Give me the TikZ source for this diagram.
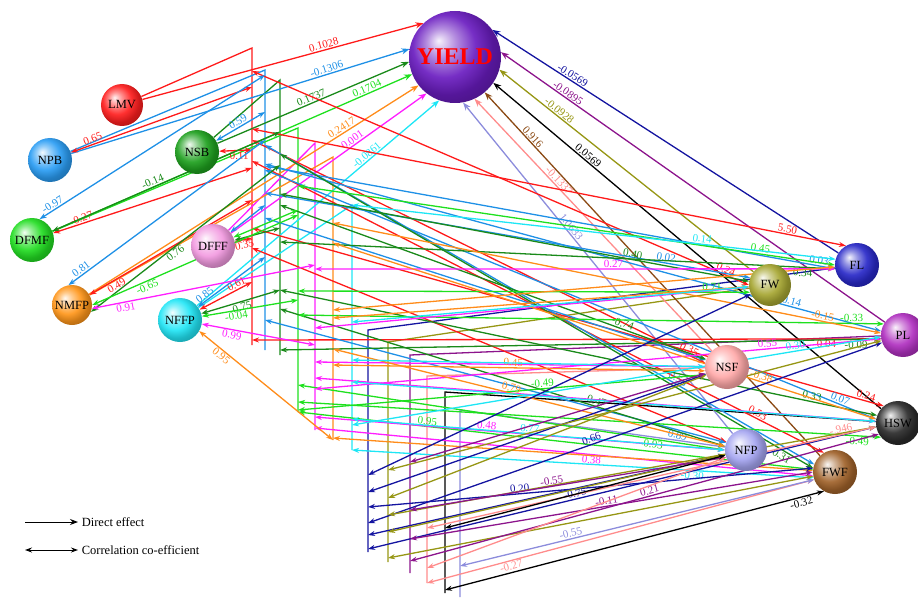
\documentclass[tikz,border=0pt]{standalone}
\usepackage{fontspec}
\setmainfont{Liberation Serif}
\usetikzlibrary{arrows.meta, backgrounds}
% softer sphere shading than the built-in ball
\makeatletter
\pgfdeclareradialshading[tikz@ball]{softball}{\pgfqpoint{-9bp}{9bp}}{%
  color(0bp)=(tikz@ball!6!white); color(8bp)=(tikz@ball!50!white);
  color(17bp)=(tikz@ball!92!white); color(25bp)=(tikz@ball!80!black);
  color(50bp)=(tikz@ball!40!black)}
\makeatother
% ball colours
\definecolor{yieldcol}{HTML}{6A1CC0}
\definecolor{lmvcol}{HTML}{FF1E1E}
\definecolor{npbcol}{HTML}{2A9DF4}
\definecolor{nsbcol}{HTML}{1EA01E}
\definecolor{dfmfcol}{HTML}{22DD22}
\definecolor{dfffcol}{HTML}{F29AE0}
\definecolor{nmfpcol}{HTML}{FF961A}
\definecolor{nffpcol}{HTML}{22E6F6}
\definecolor{flcol}{HTML}{2828C8}
\definecolor{fwcol}{HTML}{A6A632}
\definecolor{plcol}{HTML}{B030C0}
\definecolor{nsfcol}{HTML}{FFA8A8}
\definecolor{hswcol}{HTML}{2A2A2A}
\definecolor{nfpcol}{HTML}{A4A4F0}
\definecolor{fwfcol}{HTML}{A0622A}
% line colours
\definecolor{cred}{HTML}{FF1A1A}
\definecolor{cblue}{HTML}{1E90E6}
\definecolor{cdgreen}{HTML}{1A8A1A}
\definecolor{clime}{HTML}{1EE01E}
\definecolor{cmag}{HTML}{FF1EFF}
\definecolor{corange}{HTML}{FF8C1A}
\definecolor{ccyan}{HTML}{1EE6F5}
\definecolor{cnavy}{HTML}{1414A0}
\definecolor{colive}{HTML}{969614}
\definecolor{cpurple}{HTML}{8C148C}
\definecolor{csalmon}{HTML}{FF8C8C}
\definecolor{cblack}{HTML}{000000}
\definecolor{clav}{HTML}{8C8CDC}
\definecolor{cbrown}{HTML}{8B4A14}

\begin{document}
\begin{tikzpicture}[
    x=1pt, y=-1pt,
    ball/.style={circle, minimum size=44pt, inner sep=0pt, font=\fontsize{12.5}{13}\selectfont},
    sphere/.style={ball color=#1, shading=softball},
    direct/.style={-{Stealth[length=8pt, width=6pt]}, line width=1.3pt},
    corr/.style={{Stealth[length=7pt, width=5pt]}-{Stealth[length=7pt, width=5pt]}, line width=1.3pt},
    bus/.style={line width=1.3pt},
    lbl/.style={sloped, above, inner sep=1pt, font=\fontsize{11}{11}\selectfont},
    legtxt/.style={right, font=\fontsize{12.5}{13}\selectfont}
]
    \useasboundingbox (0,0) rectangle (918,599);

    % =====================================================================
    % VARIABLES
    % =====================================================================
    \node (YIELD) [ball, sphere=yieldcol, minimum size=92pt, text=red, font=\fontsize{24}{26}\selectfont\bfseries] at (455,57) {YIELD};

    \node (LMV)  [ball, sphere=lmvcol, minimum size=42pt] at (122,105) {LMV};
    \node (NPB)  [ball, sphere=npbcol]  at (50,160)  {NPB};
    \node (NSB)  [ball, sphere=nsbcol]  at (197,152) {NSB};
    \node (DFMF) [ball, sphere=dfmfcol] at (32,240)  {DFMF};
    \node (DFFF) [ball, sphere=dfffcol] at (213,246) {DFFF};
    \node (NMFP) [ball, sphere=nmfpcol, minimum size=40pt] at (72,305) {NMFP};
    \node (NFFP) [ball, sphere=nffpcol] at (180,320) {NFFP};

    \node (FL)  [ball, sphere=flcol]  at (857,265) {FL};
    \node (FW)  [ball, sphere=fwcol, minimum size=42pt] at (770,285) {FW};
    \node (PL)  [ball, sphere=plcol]  at (903,335) {PL};
    \node (NSF) [ball, sphere=nsfcol] at (727,367) {NSF};
    \node (HSW) [ball, sphere=hswcol] at (898,423) {HSW};
    \node (NFP) [ball, sphere=nfpcol, minimum size=42pt] at (746,450) {NFP};
    \node (FWF) [ball, sphere=fwfcol] at (835,472) {FWF};

    % bus lines
    \coordinate (LMVtop)  at (252,48);  \coordinate (LMVbot)  at (252,345);
    \coordinate (NPBtop)  at (265,70);  \coordinate (NPBbot)  at (265,350);
    \coordinate (NSBtop)  at (280,80);  \coordinate (NSBbot)  at (280,355);
    \coordinate (DFMFtop) at (298,128); \coordinate (DFMFbot) at (298,412);
    \coordinate (DFFFtop) at (315,143); \coordinate (DFFFbot) at (315,430);
    \coordinate (NMFPtop) at (333,157); \coordinate (NMFPbot) at (333,440);
    \coordinate (NFFPtop) at (352,205); \coordinate (NFFPbot) at (352,450);
    \coordinate (FLtop)   at (368,330); \coordinate (FLbot)   at (368,552);
    \coordinate (FWtop)   at (388,342); \coordinate (FWbot)   at (388,562);
    \coordinate (PLtop)   at (410,355); \coordinate (PLbot)   at (410,573);
    \coordinate (NSFtop)  at (427,376); \coordinate (NSFbot)  at (427,583);
    \coordinate (HSWtop)  at (445,392); \coordinate (HSWbot)  at (445,593);
    \coordinate (NFPtop)  at (460,410); \coordinate (NFPbot)  at (460,597);

    \begin{scope}[on background layer]
    \draw [bus, cred]    (LMV)  -- (LMVtop)  -- (LMVbot);
    \draw [bus, cblue]   (NPB)  -- (NPBtop)  -- (NPBbot);
    \draw [bus, cdgreen] (NSB)  -- (NSBtop)  -- (NSBbot);
    \draw [bus, clime]   (DFMF) -- (DFMFtop) -- (DFMFbot);
    \draw [bus, cmag]    (DFFF) -- (DFFFtop) -- (DFFFbot);
    \draw [bus, corange] (NMFP) -- (NMFPtop) -- (NMFPbot);
    \draw [bus, ccyan]   (NFFP) -- (NFFPtop) -- (NFFPbot);
    \draw [bus, cnavy]   (FL)   -- (FLtop)   -- (FLbot);
    \draw [bus, colive]  (FW)   -- (FWtop)   -- (FWbot);
    \draw [bus, cpurple] (PL)   -- (PLtop)   -- (PLbot);
    \draw [bus, csalmon] (NSF)  -- (NSFtop)  -- (NSFbot);
    \draw [bus, cblack]  (HSW)  -- (HSWtop)  -- (HSWbot);
    \draw [bus, clav]    (NFP)  -- (NFPtop)  -- (NFPbot);

    % =====================================================================
    % DIRECT EFFECTS ON YIELD
    % =====================================================================
    \draw [direct, cred]    (LMV)  -- (YIELD.133) node[lbl, pos=.65]  {0.1028};
    \draw [direct, cblue]   (NPB)  -- (YIELD.170) node[lbl, pos=.76]  {-0.1306};
    \draw [direct, cdgreen] (NSB)  -- (YIELD.186) node[lbl, pos=.5]   {0.1737};
    \draw [direct, clime]   (DFMF) -- (YIELD.202) node[lbl, pos=.88]  {0.1704};
    \draw [direct, corange] (NMFP) -- (YIELD.218) node[lbl, pos=.775] {0.2417};
    \draw [direct, cmag]    (DFFF) -- (YIELD.232) node[lbl, pos=.636] {0.001};
    \draw [direct, ccyan]   (NFFP) -- (YIELD.250) node[lbl, pos=.715] {-0.0861};

    \draw [direct, cnavy]   (FL)  -- (YIELD.36)  node[lbl, pos=.776] {-0.0569};
    \draw [direct, cpurple] (PL)  -- (YIELD.6)   node[lbl, pos=.833] {-0.0895};
    \draw [direct, colive]  (FW)  -- (YIELD.-16) node[lbl, pos=.777] {-0.0928};
    \draw [direct, cblack]  (HSW) -- (YIELD.-34) node[lbl, pos=.764] {0.0569};
    \draw [direct, cbrown]  (FWF) -- (YIELD.-50) node[lbl, pos=.868] {0.916};
    \draw [direct, csalmon] (NSF) -- (YIELD.-65) node[lbl, pos=.66]  {-0.1337};
    \draw [direct, clav]    (NFP) -- (YIELD.-80) node[lbl, pos=.614] {1.0633};

    % =====================================================================
    % CORRELATIONS
    % =====================================================================
    % LMV
    \draw [corr, cred] (LMVtop |- 0,87)  -- (NPB)  node[lbl, pos=.87] {0.65};
    \draw [corr, cred] (LMVtop |- 0,150) -- (NSB)  node[lbl, below, pos=.4] {0.11};
    \draw [corr, cred] (LMVtop |- 0,168) -- (DFMF) node[lbl, pos=.85] {-0.27};
    \draw [corr, cred] (LMVtop |- 0,238) -- (DFFF) node[lbl, below, pos=.5] {0.35};
    \draw [corr, cred] (LMVtop |- 0,200) -- (NMFP) node[lbl, below, pos=.85] {0.49};
    \draw [corr, cred] (LMVtop |- 0,282) -- (NFFP) node[lbl, pos=.25] {0.61};
    \draw [corr, cred] (LMVtop |- 0,129) -- (FL.120)  node[lbl, pos=.9]  {5.50};
    \draw [corr, cred] (LMVtop |- 0,71)  -- (FW.180)  node[lbl, pos=.95] {0.24};
    \draw [corr, cred] (LMVtop |- 0,340) -- (PL.190)  node[lbl, below, pos=.913] {0.04};
    \draw [corr, cred] (LMVtop |- 0,140) -- (NSF.170) node[lbl, pos=.96] {0.35};
    \draw [corr, cred] (LMVtop |- 0,228) -- (HSW.130) node[lbl, pos=.97] {0.24};
    \draw [corr, cred] (LMVtop |- 0,248) -- (NFP);
    \draw [corr, cred] (LMVtop |- 0,161) -- (FWF.120) node[lbl, pos=.88] {0.53};

    % NPB
    \draw [corr, cblue] (NPBtop |- 0,112) -- (NSB)  node[lbl, pos=.5]  {0.59};
    \draw [corr, cblue] (NPBtop |- 0,75)  -- (DFMF.70) node[lbl, pos=.93] {-0.97};
    \draw [corr, cblue] (NPBtop |- 0,205) -- (DFFF);
    \draw [corr, cblue] (NPBtop |- 0,140) -- (NMFP.100) node[lbl, pos=.92] {0.81};
    \draw [corr, cblue] (NPBtop |- 0,257) -- (NFFP) node[lbl, pos=.85] {0.85};
    \draw [corr, cblue] (NPBtop |- 0,166) -- (FL.190)  node[lbl, pos=.97]  {0.03};
    \draw [corr, cblue] (NPBtop |- 0,193) -- (FW.160)  node[lbl, pos=.825] {0.02};
    \draw [corr, cblue] (NPBtop |- 0,164) -- (PL.170)  node[lbl, pos=.85]  {-0.14};
    \draw [corr, cblue] (NPBtop |- 0,218) -- (NSF);
    \draw [corr, cblue] (NPBtop |- 0,170) -- (HSW.170) node[lbl, pos=.938] {0.07};
    \draw [corr, cblue] (NPBtop |- 0,320) -- (NFP.160) node[lbl, below, pos=.898] {0.89};
    \draw [corr, cblue] (NPBtop |- 0,145) -- (FWF.160) node[lbl, pos=.747] {0.56};

    % NSB
    \draw [corr, cdgreen] (NSBtop |- 0,132) -- (DFMF) node[lbl, pos=.55] {-0.14};
    \draw [corr, cdgreen] (NSBtop |- 0,228) -- (DFFF);
    \draw [corr, cdgreen] (NSBtop |- 0,165) -- (NMFP.-20) node[lbl, below, pos=.571] {0.76};
    \draw [corr, cdgreen] (NSBtop |- 0,290) -- (NFFP) node[lbl, below, pos=.5] {0.75};
    \draw [corr, cdgreen] (NSBtop |- 0,242) -- (FL.190)  node[lbl, below, pos=.942] {0.34};
    \draw [corr, cdgreen] (NSBtop |- 0,194) -- (FW.170)  node[lbl, pos=.75]  {0.40};
    \draw [corr, cdgreen] (NSBtop |- 0,350) -- (PL.190)  node[lbl, below, pos=.958] {-0.09};
    \draw [corr, cdgreen] (NSBtop |- 0,205) -- (NSF.160) node[lbl, pos=.8]   {-0.74};
    \draw [corr, cdgreen] (NSBtop |- 0,290) -- (HSW.160) node[lbl, pos=.889] {0.33};
    \draw [corr, cdgreen] (NSBtop |- 0,309) -- (NFP.170) node[lbl, pos=.708] {0.47};
    \draw [corr, cdgreen] (NSBtop |- 0,154) -- (FWF.170) node[lbl, below, pos=.946] {0.31};

    % DFMF
    \draw [corr, clime] (DFMFtop |- 0,210) -- (DFFF);
    \draw [corr, clime] (DFMFtop |- 0,215) -- (NMFP.0) node[lbl, below, pos=.743] {-0.65};
    \draw [corr, clime] (DFMFtop |- 0,300) -- (NFFP) node[lbl, below, pos=.65] {-0.04};
    \draw [corr, clime] (DFMFtop |- 0,186) -- (FL.180)  node[lbl, pos=.86]  {0.45};
    \draw [corr, clime] (DFMFtop |- 0,291) -- (FW.200)  node[lbl, pos=.916] {0.71};
    \draw [corr, clime] (DFMFtop |- 0,315) -- (PL.150)  node[lbl, pos=.945] {-0.33};
    \draw [corr, clime] (DFMFtop |- 0,410) -- (NSF.200) node[lbl, pos=.6]   {-0.49};
    \draw [corr, clime] (DFMFtop |- 0,402) -- (HSW.220) node[lbl, below, pos=.96] {-0.49};
    \draw [corr, clime] (DFMFtop |- 0,385) -- (NFP.180) node[lbl, below, pos=.83] {-0.93};
    \draw [corr, clime] (DFMFtop |- 0,412) -- (FWF)     node[lbl, pos=.25]  {0.95};

    % DFFF
    \draw [corr, cmag] (DFFFtop |- 0,265) -- (NMFP.-10) node[lbl, below, pos=.852] {0.91};
    \draw [corr, cmag] (DFFFtop |- 0,345) -- (NFFP) node[lbl, below, pos=.726] {0.99};
    \draw [corr, cmag] (DFFFtop |- 0,269) -- (FL.190)  node[lbl, pos=.574] {0.27};
    \draw [corr, cmag] (DFFFtop |- 0,328) -- (FW);
    \draw [corr, cmag] (DFFFtop |- 0,389) -- (PL.190)  node[lbl, pos=.8]   {0.55};
    \draw [corr, cmag] (DFFFtop |- 0,362) -- (NSF);
    \draw [corr, cmag] (DFFFtop |- 0,378) -- (HSW);
    \draw [corr, cmag] (DFFFtop |- 0,417) -- (NFP.180) node[lbl, pos=.418] {0.48};
    \draw [corr, cmag] (DFFFtop |- 0,428) -- (FWF.190) node[lbl, below, pos=.556] {0.38};

    % NMFP
    \draw [corr, corange] (NMFPtop |- 0,440) -- (NFFP.-30) node[lbl, below, pos=.81] {0.95};
    \draw [corr, corange] (NMFPtop |- 0,310) -- (FL);
    \draw [corr, corange] (NMFPtop |- 0,318) -- (FW);
    \draw [corr, corange] (NMFPtop |- 0,223) -- (PL.175)  node[lbl, pos=.892] {-0.15};
    \draw [corr, corange] (NMFPtop |- 0,365) -- (NSF.190) node[lbl, pos=.484] {0.45};
    \draw [corr, corange] (NMFPtop |- 0,243) -- (HSW.170) node[lbl, pos=.786] {-0.38};
    \draw [corr, corange] (NMFPtop |- 0,349) -- (NFP.170) node[lbl, pos=.452] {0.79};
    \draw [corr, corange] (NMFPtop |- 0,438) -- (FWF);

    % NFFP
    \draw [corr, ccyan] (NFFPtop |- 0,205) -- (FL.165)  node[lbl, pos=.723] {0.14};
    \draw [corr, ccyan] (NFFPtop |- 0,322) -- (FW);
    \draw [corr, ccyan] (NFFPtop |- 0,425) -- (PL.185)  node[lbl, pos=.84]  {0.30};
    \draw [corr, ccyan] (NFFPtop |- 0,360) -- (NSF);
    \draw [corr, ccyan] (NFFPtop |- 0,382) -- (HSW);
    \draw [corr, ccyan] (NFFPtop |- 0,419) -- (NFP.180) node[lbl, pos=.476] {0.77};
    \draw [corr, ccyan] (NFFPtop |- 0,450) -- (FWF.195) node[lbl, below, pos=.738] {-0.30};

    % FL
    \draw [corr, cnavy] (FLtop |- 0,475) -- (FW);
    \draw [corr, cnavy] (FLtop |- 0,492) -- (NSF);
    \draw [corr, cnavy] (FLtop |- 0,523) -- (PL.200)  node[lbl, pos=.438] {0.66};
    \draw [corr, cnavy] (FLtop |- 0,549) -- (HSW.190) node[lbl, pos=.41]  {-0.75};
    \draw [corr, cnavy] (FLtop |- 0,535) -- (NFP);
    \draw [corr, cnavy] (FLtop |- 0,507) -- (FWF.170) node[lbl, pos=.342] {0.20};

    % FW
    \draw [corr, colive] (FWtop |- 0,470) -- (PL);
    \draw [corr, colive] (FWtop |- 0,498) -- (NSF);
    \draw [corr, colive] (FWtop |- 0,515) -- (HSW);
    \draw [corr, colive] (FWtop |- 0,532) -- (NFP);
    \draw [corr, colive] (FWtop |- 0,558) -- (FWF);

    % PL
    \draw [corr, cpurple] (PLtop |- 0,462) -- (NSF);
    \draw [corr, cpurple] (PLtop |- 0,510) -- (NFP.200) node[lbl, pos=.451] {-0.55};
    \draw [corr, cpurple] (PLtop |- 0,561) -- (HSW.210) node[lbl, pos=.514] {0.21};
    \draw [corr, cpurple] (PLtop |- 0,539) -- (FWF.180) node[lbl, pos=.49]  {-0.11};

    % NSF
    \draw [corr, csalmon] (NSFtop |- 0,528) -- (HSW.190) node[lbl, pos=.924] {-.946};
    \draw [corr, csalmon] (NSFtop |- 0,568) -- (NFP);
    \draw [corr, csalmon] (NSFtop |- 0,583) -- (FWF.200) node[lbl, below, pos=.214] {-0.27};

    % HSW
    \draw [corr, cblack] (HSWtop |- 0,528) -- (NFP);
    \draw [corr, cblack] (HSWtop |- 0,590) -- (FWF.240) node[lbl, below, pos=.937] {-0.32};

    % NFP
    \draw [corr, clav] (NFPtop |- 0,566) -- (FWF.200) node[lbl, pos=.316] {-0.55};
    \end{scope}

    % =====================================================================
    % LEGEND
    % =====================================================================
    \coordinate (dirA) at (25,522);  \coordinate (dirB) at (78,522);
    \coordinate (corA) at (25,550);  \coordinate (corB) at (78,550);
    \draw [direct, black, line width=1pt] (dirA) -- (dirB) node[legtxt] {Direct effect};
    \draw [corr, black, line width=1pt] (corA) -- (corB) node[legtxt] {Correlation co-efficient};

\end{tikzpicture}
\end{document}
